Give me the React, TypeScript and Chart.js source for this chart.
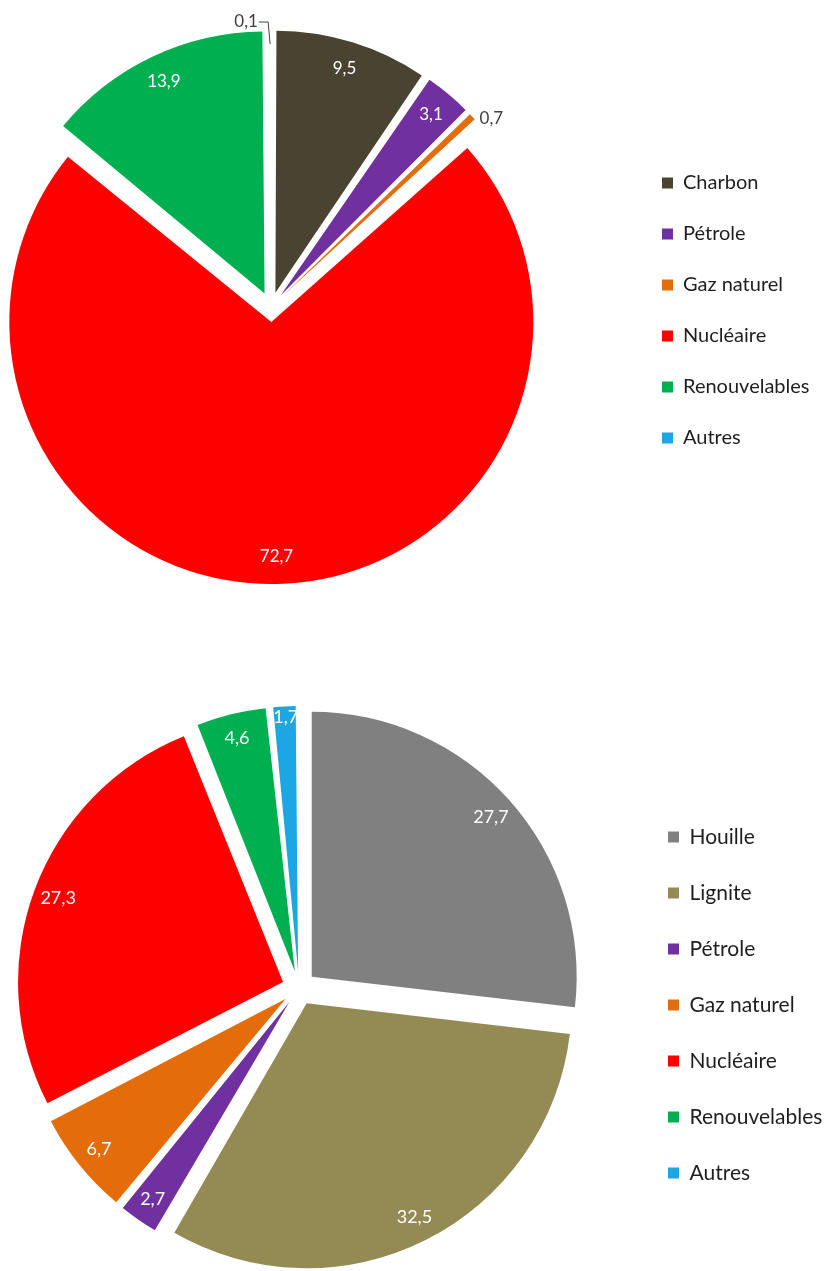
import React, { useEffect, useRef } from 'react';
import { Chart, registerables } from 'chart.js';

Chart.register(...registerables);

// ---- Data ----
const topCategories = ['Charbon', 'Pétrole', 'Gaz naturel', 'Nucléaire', 'Renouvelables', 'Autres'];
const topValues = [9.5, 3.1, 0.7, 72.7, 13.9, 0.1];
const topColors = ['#4b4331', '#7030a0', '#e46c0a', '#ff0000', '#00b050', '#1ca6e4'];

const bottomCategories = ['Houille', 'Lignite', 'Pétrole', 'Gaz naturel', 'Nucléaire', 'Renouvelables', 'Autres'];
const bottomValues = [27.7, 32.5, 2.7, 6.7, 27.3, 4.6, 1.7];
const bottomColors = ['#808080', '#948a54', '#7030a0', '#e46c0a', '#ff0000', '#00b050', '#1ca6e4'];

const FONT = 'Lato, "Open Sans", sans-serif';

type PieStyle = {
  width: number;
  height: number;
  cx: number;
  cy: number;
  radius: number;
  explode: number;
  labelInset: number;
  labelOutset: number;
  labelSize: number;
  outsideBelow: number;
  legendX: number;
  legendFirstY: number;
  legendSize: number;
  legendPad: number;
  nudges: Record<number, [number, number]>;
  leaders: number[];
};

const topStyle: PieStyle = {
  width: 829, height: 640,
  cx: 271, cy: 307, radius: 262, explode: 15,
  labelInset: 27, labelOutset: 18, labelSize: 17, outsideBelow: 1,
  legendX: 662, legendFirstY: 183, legendSize: 20, legendPad: 31,
  nudges: { 2: [6, 14], 5: [-24, 10] },
  leaders: [5],
};

const bottomStyle: PieStyle = {
  width: 829, height: 631,
  cx: 299, cy: 348, radius: 265, explode: 17,
  labelInset: 25, labelOutset: 18, labelSize: 18, outsideBelow: 1,
  legendX: 668, legendFirstY: 197, legendSize: 21, legendPad: 35,
  nudges: { 6: [0, -14] },
  leaders: [],
};

const fmt = (v: number) => v.toFixed(1).replace('.', ',');

function PieChart({ labels, values, colors, s }: { labels: string[]; values: number[]; colors: string[]; s: PieStyle }) {
  const ref = useRef<HTMLCanvasElement>(null);

  useEffect(() => {
    const canvas = ref.current;
    if (!canvas) return;

    const piePlugin = {
      id: 'pieLayout',
      afterLayout(chart: any) {
        const ca = chart.chartArea;
        ca.left = 0;
        ca.top = 0;
        ca.right = 2 * s.cx;
        ca.bottom = 2 * s.cy;
        ca.width = 2 * s.cx;
        ca.height = 2 * s.cy;
        const lg = chart.legend;
        if (lg) {
          const pad = s.legendPad;
          const w = lg.width;
          const h = lg.height;
          lg.left = s.legendX - pad;
          lg.right = lg.left + w;
          const colH = lg.columnSizes && lg.columnSizes[0] ? lg.columnSizes[0].height : labels.length * (s.legendSize + pad);
          const y0 = s.legendFirstY - s.legendSize / 2;
          lg.top = y0 - (pad + h - colH) / 2;
          lg.bottom = lg.top + h;
        }
      },
      afterDatasetsUpdate(chart: any) {
        const meta = chart.getDatasetMeta(0);
        meta.data.forEach((el: any) => {
          const circ = el.circumference ?? el.endAngle - el.startAngle;
          const fix = 1 - Math.sin(Math.min(Math.PI, circ || 0));
          el.outerRadius = s.radius - s.explode * fix;
        });
      },
      afterDatasetsDraw(chart: any) {
        const ctx = chart.ctx as CanvasRenderingContext2D;
        const meta = chart.getDatasetMeta(0);
        ctx.save();
        ctx.font = `${s.labelSize}px ${FONT}`;
        ctx.textAlign = 'center';
        ctx.textBaseline = 'middle';
        meta.data.forEach((el: any, i: number) => {
          const v = values[i];
          const mid = (el.startAngle + el.endAngle) / 2;
          const ax = el.x + Math.cos(mid) * s.explode;
          const ay = el.y + Math.sin(mid) * s.explode;
          const inside = v >= s.outsideBelow;
          const dist = inside ? s.radius - s.labelInset : s.radius + s.labelOutset;
          const n = s.nudges[i] || [0, 0];
          const lx = ax + Math.cos(mid) * dist + n[0];
          const ly = ay + Math.sin(mid) * dist + n[1];
          const text = fmt(v);
          ctx.fillStyle = inside ? '#ffffff' : '#404040';
          ctx.fillText(text, lx, ly);
          if (s.leaders.includes(i)) {
            const tw = ctx.measureText(text).width;
            const px = ax + Math.cos(mid) * s.radius;
            const py = ay + Math.sin(mid) * s.radius;
            ctx.strokeStyle = '#404040';
            ctx.lineWidth = 1;
            ctx.beginPath();
            ctx.moveTo(lx + tw / 2 + 1, ly);
            ctx.lineTo(px - 2, ly);
            ctx.lineTo(px, py + 14);
            ctx.stroke();
          }
        });
        ctx.restore();
      },
    };

    const chart = new Chart(canvas, {
      type: 'pie',
      data: {
        labels,
        datasets: [
          {
            data: values,
            backgroundColor: colors,
            borderColor: colors,
            borderWidth: 0,
            offset: s.explode * 4,
            hoverOffset: 0,
            clip: false as any,
          } as any,
        ],
      },
      options: {
        responsive: false,
        animation: false,
        events: [],
        radius: s.radius,
        rotation: 0,
        layout: { padding: 0 },
        plugins: {
          tooltip: { enabled: false },
          title: { display: false },
          legend: {
            display: true,
            position: 'right',
            align: 'center',
            labels: {
              boxWidth: 11,
              boxHeight: 11,
              padding: s.legendPad,
              color: '#1e1e1e',
              font: { family: FONT, size: s.legendSize },
            },
          },
        },
      } as any,
      plugins: [piePlugin],
    });

    return () => chart.destroy();
  }, [labels, values, colors, s]);

  return <canvas ref={ref} width={s.width} height={s.height} style={{ display: 'block', width: s.width, height: s.height }} />;
}

export default function App() {
  return (
    <div style={{ position: 'absolute', left: 0, top: 0, width: 829, height: 1271, background: '#ffffff' }}>
      <PieChart labels={topCategories} values={topValues} colors={topColors} s={topStyle} />
      <PieChart labels={bottomCategories} values={bottomValues} colors={bottomColors} s={bottomStyle} />
    </div>
  );
}
